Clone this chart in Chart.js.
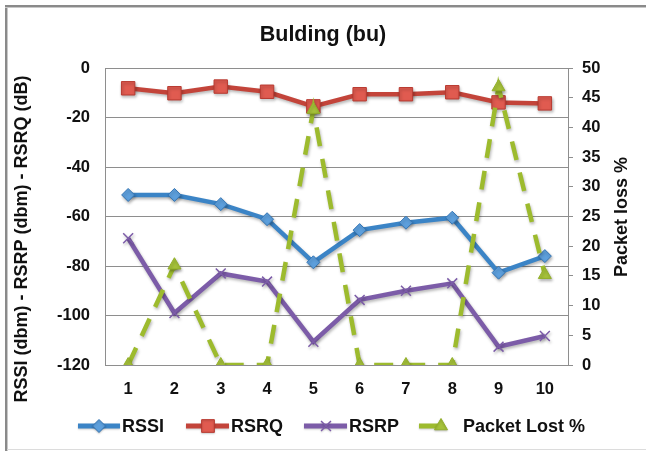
<!DOCTYPE html>
<html>
<head>
<meta charset="utf-8">
<script src="https://cdn.jsdelivr.net/npm/chart.js@4/dist/chart.umd.min.js"></script>
<style>
  html, body { margin: 0; padding: 0; background: #fff; }
  #wrap { width: 646px; height: 451px; position: relative; }
  canvas { display: block; }
</style>
</head>
<body>
<div id="wrap"><canvas id="chart" width="646" height="451"></canvas></div>
<script>
// Measurement points along the building walk
const categories = ['1', '2', '3', '4', '5', '6', '7', '8', '9', '10'];

// Signal readings (left axis)
const rssi = [-51.3, -51.3, -55, -61.1, -78.5, -65.5, -62.5, -60.5, -82.7, -76];
const rsrq = [-8.2, -10.2, -7.5, -9.6, -15.5, -10.6, -10.6, -9.8, -13.9, -14.3];
const rsrp = [-68.8, -99, -83, -86.3, -110.6, -93.7, -90, -87, -112.6, -108.3];

// Packet loss in percent (right axis)
const packetLost = [0, 16.8, 0, 0, 43, 0, 0, 0, 46.8, 15.2];

// Axis ranges and titles
const leftRange = [-120, 0, 20];
const rightRange = [0, 50, 5];
const chartTitle = 'Bulding (bu)';
const leftTitle = 'RSSI (dbm) - RSRP (dbm) - RSRQ (dB)';
const rightTitle = 'Packet loss %';

const FONT = '"Liberation Sans", Arial, Helvetica, sans-serif';
const GRID = '#8e8e8e';
const C = {
  rssi: { line: '#3b84c6', fill: '#5d9fdc', edge: '#3576b5' },
  rsrq: { line: '#c3443a', fill: '#e05b50', edge: '#b83a31' },
  rsrp: { line: '#7c5ca8', fill: '#7c5ca8', edge: '#7c5ca8' },
  loss: { line: '#9dbb2e', fill: '#a6c23a', edge: '#93b02a' }
};

// White background with a grey frame on the top and left edges
const framePlugin = {
  id: 'frame',
  beforeDraw(chart) {
    const ctx = chart.ctx;
    ctx.save();
    ctx.fillStyle = '#fff';
    ctx.fillRect(0, 0, chart.width, chart.height);
    ctx.fillStyle = '#8a8a8a';
    ctx.fillRect(5, 5, chart.width - 5, 2);
    ctx.fillRect(5, 5, 2, chart.height - 5);
    ctx.fillStyle = '#c8c8c8';
    ctx.fillRect(5, 7, chart.width - 5, 1);
    ctx.fillRect(7, 7, 1, chart.height - 7);
    ctx.fillStyle = '#dcdcdc';
    ctx.fillRect(7, chart.height - 2, chart.width - 7, 1);
    ctx.restore();
  }
};

// Soft drop shadow under lines and markers
const shadowPlugin = {
  id: 'markShadow',
  beforeDatasetsDraw(chart) {
    const ctx = chart.ctx;
    ctx.save();
    ctx.shadowColor = 'rgba(0,0,0,0.28)';
    ctx.shadowBlur = 3;
    ctx.shadowOffsetX = 1;
    ctx.shadowOffsetY = 2;
  },
  afterDatasetsDraw(chart) {
    chart.ctx.restore();
  }
};

// Rotated axis titles, both reading bottom to top
const axisTitlePlugin = {
  id: 'axisTitles',
  afterDraw(chart) {
    const ctx = chart.ctx;
    const draw = (text, x, y) => {
      ctx.save();
      ctx.fillStyle = '#111';
      ctx.font = 'bold 18px ' + FONT;
      ctx.textAlign = 'center';
      ctx.textBaseline = 'middle';
      ctx.translate(x, y);
      ctx.rotate(-Math.PI / 2);
      ctx.fillText(text, 0, 0);
      ctx.restore();
    };
    draw(leftTitle, 22, 239);
    draw(rightTitle, 622, 217);
  }
};

function marker(ctx, style, r, x, y, ds) {
  const h = Chart.helpers;
  ctx.fillStyle = ds.backgroundColor;
  ctx.strokeStyle = ds.pointBorderColor;
  ctx.lineWidth = ds.pointBorderWidth;
  if (h && h.drawPoint) {
    h.drawPoint(ctx, { pointStyle: style, radius: r, rotation: 0, borderWidth: ds.pointBorderWidth }, x, y);
  }
}

// Legend row under the x axis: line sample, marker, label
const legendPlugin = {
  id: 'rowLegend',
  afterDraw(chart) {
    const ctx = chart.ctx;
    const y = 426;
    const items = [
      { i: 0, x0: 78, x1: 120, mx: 99, r: 6.5, tx: 122 },
      { i: 1, x0: 186, x1: 229, mx: 208, r: 9, tx: 231 },
      { i: 2, x0: 304, x1: 347, mx: 326, r: 7, tx: 349 },
      { i: 3, x0: 419, x1: 440, mx: 441, r: 7.5, tx: 463 }
    ];
    items.forEach(it => {
      const ds = chart.data.datasets[it.i];
      ctx.save();
      ctx.shadowColor = 'rgba(0,0,0,0.2)';
      ctx.shadowBlur = 2;
      ctx.shadowOffsetY = 1;
      ctx.strokeStyle = ds.borderColor;
      ctx.lineWidth = 5;
      ctx.beginPath();
      ctx.moveTo(it.x0, y);
      ctx.lineTo(it.x1, y);
      ctx.stroke();
      marker(ctx, ds.pointStyle, it.r, it.mx, y, ds);
      ctx.restore();
      ctx.save();
      ctx.fillStyle = '#111';
      ctx.font = 'bold 18px ' + FONT;
      ctx.textAlign = 'left';
      ctx.textBaseline = 'middle';
      ctx.fillText(ds.label, it.tx, y + 1);
      ctx.restore();
    });
  }
};

const tickFont = { family: FONT, size: 16.5, weight: 'bold' };

new Chart(document.getElementById('chart'), {
  type: 'line',
  data: {
    labels: categories,
    datasets: [
      {
        label: 'RSSI', data: rssi, yAxisID: 'y', order: 3,
        borderColor: C.rssi.line, backgroundColor: C.rssi.fill, pointBorderColor: C.rssi.edge,
        borderWidth: 4.5, pointStyle: 'rectRot', pointRadius: 6.5, pointBorderWidth: 1,
        tension: 0
      },
      {
        label: 'RSRQ', data: rsrq, yAxisID: 'y', order: 2,
        borderColor: C.rsrq.line, backgroundColor: C.rsrq.fill, pointBorderColor: C.rsrq.edge,
        borderWidth: 4.5, pointStyle: 'rect', pointRadius: 9.5, pointBorderWidth: 1,
        tension: 0
      },
      {
        label: 'RSRP', data: rsrp, yAxisID: 'y', order: 1,
        borderColor: C.rsrp.line, backgroundColor: C.rsrp.fill, pointBorderColor: C.rsrp.edge,
        borderWidth: 4.5, pointStyle: 'crossRot', pointRadius: 7, pointBorderWidth: 1.5,
        tension: 0
      },
      {
        label: 'Packet Lost %', data: packetLost, yAxisID: 'y2', order: 0,
        borderColor: C.loss.line, backgroundColor: C.loss.fill, pointBorderColor: C.loss.edge,
        borderWidth: 4.5, borderDash: [19, 13], borderCapStyle: 'butt',
        pointStyle: 'triangle', pointRadius: 7.5, pointBorderWidth: 1,
        tension: 0
      }
    ]
  },
  options: {
    responsive: false,
    animation: false,
    events: [],
    layout: { padding: 0 },
    plugins: {
      legend: { display: false },
      tooltip: { enabled: false },
      title: {
        display: true, text: chartTitle, color: '#111',
        font: { family: FONT, size: 21.5, weight: 'bold', lineHeight: 1.2 },
        padding: { top: 22, bottom: 20.2 }
      }
    },
    scales: {
      x: {
        offset: true,
        grid: { display: false, drawTicks: false },
        border: { display: true, color: GRID, width: 1 },
        ticks: { color: '#111', font: tickFont, padding: 15, maxRotation: 0 },
        afterFit(s) { s.height = 86; }
      },
      y: {
        position: 'left',
        min: leftRange[0], max: leftRange[1],
        ticks: { stepSize: leftRange[2], color: '#111', font: tickFont, padding: 15 },
        grid: { color: GRID, lineWidth: 1, drawTicks: false },
        border: { display: true, color: GRID, width: 1 },
        afterFit(s) { s.width = 105; }
      },
      y2: {
        position: 'right',
        min: rightRange[0], max: rightRange[1],
        ticks: { stepSize: rightRange[2], color: '#111', font: tickFont, padding: 9 },
        grid: { drawOnChartArea: false, drawTicks: true, tickLength: 5, color: GRID },
        border: { display: true, color: GRID, width: 1 },
        afterFit(s) { s.width = 78; }
      }
    }
  },
  plugins: [framePlugin, shadowPlugin, axisTitlePlugin, legendPlugin]
});
</script>
</body>
</html>
